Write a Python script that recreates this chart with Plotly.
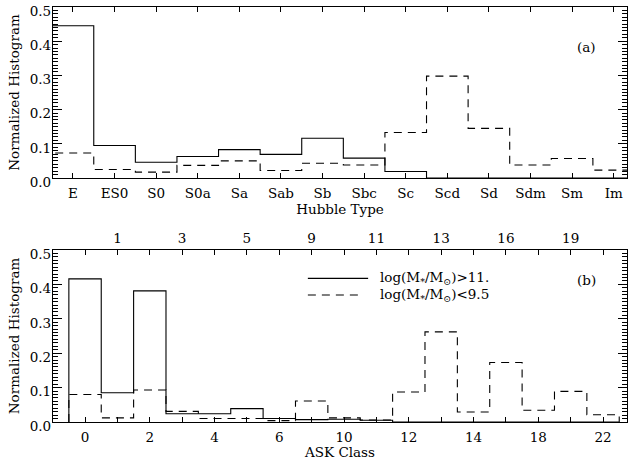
import numpy as np
import plotly.graph_objects as go

# ---------------- data ----------------
hubble_types = ["E", "ES0", "S0", "S0a", "Sa", "Sab", "Sb", "Sbc", "Sc",
                "Scd", "Sd", "Sdm", "Sm", "Im"]
hubble_massive = [0.445, 0.095, 0.046, 0.063, 0.083, 0.069, 0.116, 0.058,
                  0.019, 0.0, 0.0, 0.0, 0.0, 0.0]
hubble_lowmass = [0.073, 0.025, 0.017, 0.037, 0.050, 0.022, 0.043, 0.038,
                  0.133, 0.298, 0.145, 0.038, 0.057, 0.023]

ask_classes = [0, 1, 2, 3, 4, 5, 6, 9, 10, 11, 12, 13, 14, 16, 18, 19, 22]
ask_massive = [0.416, 0.085, 0.381, 0.024, 0.024, 0.039, 0.010, 0.007,
               0.008, 0.005, 0.0, 0.0, 0.0, 0.0, 0.0, 0.0, 0.0]
ask_lowmass = [0.080, 0.012, 0.093, 0.031, 0.010, 0.010, 0.004, 0.061,
               0.012, 0.006, 0.087, 0.262, 0.029, 0.173, 0.034, 0.089, 0.021]

legend_labels = ["log(M<sub>*</sub>/M<sub>⊙</sub>)>11.",
                 "log(M<sub>*</sub>/M<sub>⊙</sub>)<9.5"]

# ---------------- helpers ----------------
FONT = "DejaVu Serif"
DASH = "8px,6px"


def step_xy(values):
    n = len(values)
    edges = np.arange(n + 1) - 0.5
    x = np.concatenate([[edges[0]], edges])
    y = np.concatenate([[0.0], np.asarray(values, float), [0.0]])
    return x, y


fig = go.Figure()

for vals, dash, xa, ya in [
    (hubble_massive, "solid", "x", "y"),
    (hubble_lowmass, DASH, "x", "y"),
    (ask_massive, "solid", "x2", "y2"),
    (ask_lowmass, DASH, "x2", "y2"),
]:
    x, y = step_xy(vals)
    fig.add_trace(go.Scatter(x=x, y=y, mode="lines", line_shape="hv",
                             line=dict(color="black", width=1.1, dash=dash),
                             xaxis=xa, yaxis=ya, showlegend=False,
                             hoverinfo="skip"))

# invisible trace to activate the top axis of panel (b)
fig.add_trace(go.Scatter(x=[0], y=[0], mode="markers", marker=dict(opacity=0),
                         xaxis="x3", yaxis="y2", showlegend=False,
                         hoverinfo="skip"))

tickfont = dict(family=FONT, size=13.5, color="black")
titlefont = dict(family=FONT, size=13.5, color="black")

n_h = len(hubble_types)
n_a = len(ask_classes)
idx_a = list(range(n_a))

yaxis_common = dict(
    range=[0, 0.5], tickvals=[0, 0.1, 0.2, 0.3, 0.4, 0.5],
    ticktext=["0.0", "0.1", "0.2", "0.3", "0.4", "0.5"],
    ticks="inside", ticklen=9, tickwidth=1, tickcolor="black",
    minor=dict(dtick=0.01, tick0=0, ticks="inside", ticklen=5, tickwidth=1,
               tickcolor="black"),
    showline=True, linecolor="black", linewidth=1.3, mirror="ticks",
    showgrid=False, zeroline=False, tickfont=tickfont,
    ticklabelshift=4, ticklabelstandoff=-2, fixedrange=True, automargin=False,
)

xminor = dict(tick0=0, dtick=1, ticks="inside", ticklen=5, tickwidth=1,
              tickcolor="black")

fig.update_layout(
    width=632, height=460,
    margin=dict(l=53, r=5, t=7, b=38, autoexpand=False),
    paper_bgcolor="white", plot_bgcolor="white",
    font=dict(family=FONT, color="black"),
    xaxis=dict(
        domain=[0, 1], anchor="y",
        range=[-0.48, 13.32],
        tickvals=list(range(n_h)), ticktext=hubble_types,
        ticks="inside", ticklen=5, tickwidth=1, tickcolor="black",
        showline=True, linecolor="black", linewidth=1.3, mirror="ticks",
        showgrid=False, zeroline=False, tickfont=tickfont,
        ticklabelstandoff=3, automargin=False,
        title=dict(text="Hubble Type", font=titlefont, standoff=0),
    ),
    yaxis=dict(domain=[0.588, 1.0], anchor="x",
               title=dict(text="Normalized Histogram", font=titlefont,
                          standoff=6),
               **yaxis_common),
    xaxis2=dict(
        domain=[0, 1], anchor="y2",
        range=[-0.99, 16.74],
        tickvals=idx_a[::2],
        ticktext=[str(c) for c in ask_classes[::2]],
        ticks="inside", ticklen=5, tickwidth=1, tickcolor="black",
        minor=xminor,
        showline=True, linecolor="black", linewidth=1.3, mirror=False,
        showgrid=False, zeroline=False, tickfont=tickfont,
        ticklabelstandoff=3, automargin=False,
        title=dict(text="ASK Class", font=titlefont, standoff=0),
    ),
    xaxis3=dict(
        overlaying="x2", side="top", anchor="y2",
        range=[-0.99, 16.74],
        tickvals=idx_a[1::2],
        ticktext=[str(c) for c in ask_classes[1::2]],
        ticks="inside", ticklen=5, tickwidth=1, tickcolor="black",
        minor=xminor,
        showline=True, linecolor="black", linewidth=1.3,
        showgrid=False, zeroline=False, tickfont=tickfont,
        automargin=False,
    ),
    yaxis2=dict(domain=[0.0, 0.4145], anchor="x2",
                title=dict(text="Normalized Histogram", font=titlefont,
                           standoff=6),
                **yaxis_common),
)

# panel labels
fig.add_annotation(x=0.9495, y=0.928, xref="paper", yref="paper",
                   text="(a)", showarrow=False, font=tickfont)
fig.add_annotation(x=0.9495, y=0.342, xref="paper", yref="paper",
                   text="(b)", showarrow=False, font=tickfont)

# manual legend for panel (b)
leg_y = [0.346, 0.306]
leg_x1 = [0.549, 0.538]
for lbl, dash, yy, x1 in zip(legend_labels, ["solid", DASH], leg_y, leg_x1):
    fig.add_shape(type="line", xref="paper", yref="paper",
                  x0=0.444, x1=x1, y0=yy, y1=yy,
                  line=dict(color="black", width=1.1, dash=dash))
    fig.add_annotation(x=0.566, y=yy, xref="paper", yref="paper",
                       text=lbl, showarrow=False, xanchor="left",
                       yanchor="middle", font=tickfont)

fig.write_html("out.html",
               config={"displayModeBar": False},
               post_script="document.body.style.margin='0';"
                           "document.body.style.padding='0';")
